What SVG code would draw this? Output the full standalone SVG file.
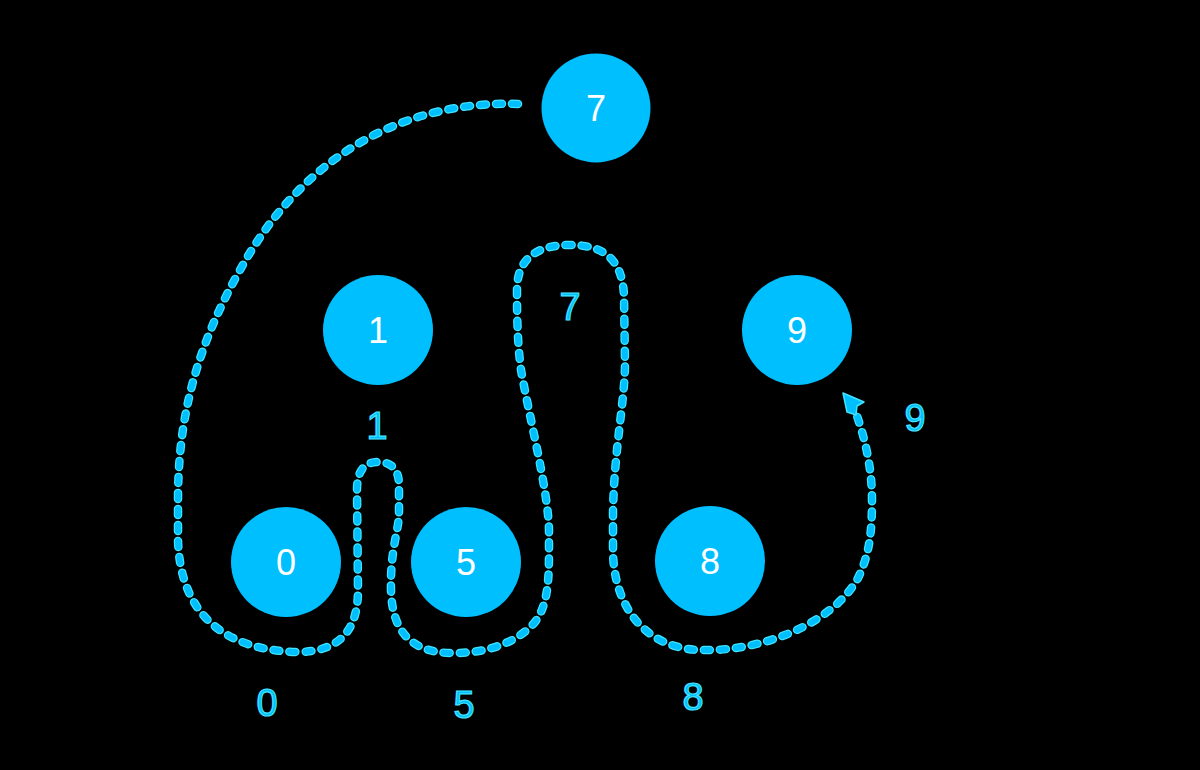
<svg xmlns="http://www.w3.org/2000/svg" width="1200" height="770" viewBox="0 0 1200 770">
<style>
.node circle{fill:#00bfff}
.node text{fill:#ffffff;font-family:"Liberation Sans",Arial,sans-serif;font-size:36px;text-anchor:middle}
.lbl{fill:#00bfff;stroke:#45e4ff;stroke-width:1.2;font-family:"Liberation Sans",Arial,sans-serif;font-size:38px;text-anchor:middle}
.edge-out{fill:none;stroke:#3fe4ff;stroke-width:8.5;stroke-dasharray:6 10;stroke-linecap:round;stroke-linejoin:round}
.edge-in{fill:none;stroke:#00bfff;stroke-width:6;stroke-dasharray:6 10;stroke-linecap:round;stroke-linejoin:round}
</style>
<defs>
<path id="route" d="M518,104 C400,100 300,160 240,270 C195,350 178,420 178,500 L178,540 C180,610 220,650 297,652 C340,652 358,630 358,590 L357,490 C357,470 365,462 378,462 C392,462 399,470 399,485 L399,513 C399,530 390,550 391,590 C392,630 410,652 450,653 C490,654 520,640 535,622 C548,605 549,580 549,550 L549,530 C548,490 530,420 521,370 C517,340 517,310 517,290 C517,260 535,245 570,245 C605,245 622,260 624,295 L625,363 C625,400 614,450 613,513 L613,550 C613,600 640,648 700,650 C760,652 830,625 857,580 C870,555 872,530 872,500 C872,470 866,442 857,416"/>
</defs>
<rect width="1200" height="770" fill="#000000"/>
<g id="connectors">
<use href="#route" class="edge-out"/>
<use href="#route" class="edge-in"/>
<polygon points="843,393 864,402 857,406 856,415 847,412" fill="#00bfff" stroke="#3fe4ff" stroke-width="1.5" stroke-linejoin="round"/>
<text class="lbl" x="267" y="716">0</text>
<text class="lbl" x="377" y="439">1</text>
<text class="lbl" x="464" y="718">5</text>
<text class="lbl" x="570" y="320">7</text>
<text class="lbl" x="693" y="710">8</text>
<text class="lbl" x="915" y="431">9</text>
</g>
<g id="node-7" class="node"><circle cx="596" cy="108" r="54.5"/><text x="596" y="121">7</text></g>
<g id="node-1" class="node"><circle cx="378" cy="330" r="55"/><text x="378" y="343">1</text></g>
<g id="node-9" class="node"><circle cx="797" cy="330" r="55"/><text x="797" y="343">9</text></g>
<g id="node-0" class="node"><circle cx="286" cy="562" r="55"/><text x="286" y="575">0</text></g>
<g id="node-5" class="node"><circle cx="466" cy="562" r="55"/><text x="466" y="575">5</text></g>
<g id="node-8" class="node"><circle cx="710" cy="561" r="55"/><text x="710" y="574">8</text></g>
</svg>
